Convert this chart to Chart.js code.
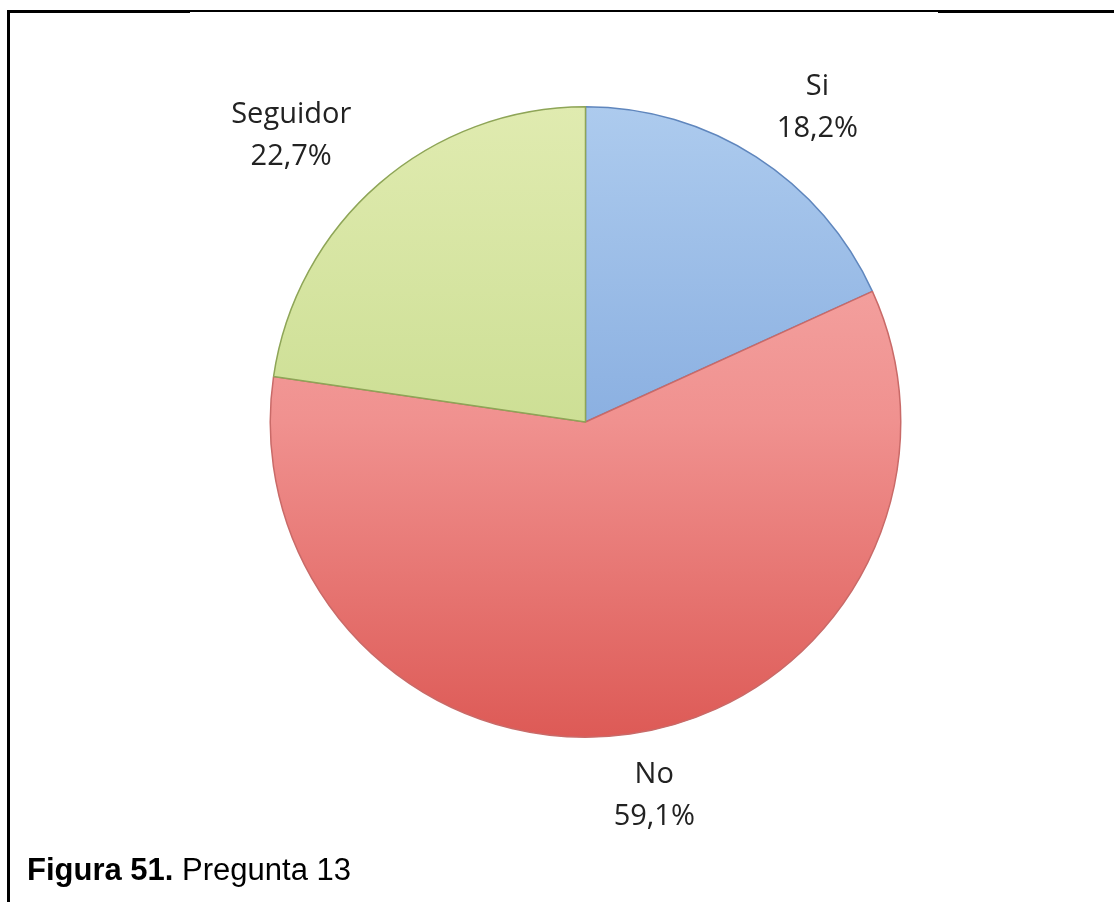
<!DOCTYPE html>
<html>
<head>
<meta charset="utf-8">
<script src="https://cdn.jsdelivr.net/npm/chart.js@4"></script>
<style>
  body { margin: 0; background: #fff; }
  #wrap { position: relative; width: 1114px; height: 902px; overflow: hidden; }
  #myChart { position: absolute; left: 0; top: 0; }
  .ln { position: absolute; background: #000; }
  #caption {
    position: absolute; left: 27px; top: 854px;
    font-family: "Liberation Sans", Arial, sans-serif; font-size: 31px; line-height: 31px; color: #000;
  }
</style>
</head>
<body>
<div id="wrap">
  <canvas id="myChart" width="1114" height="902"></canvas>
  <div class="ln" style="left:7px;top:10px;width:183px;height:3px"></div>
  <div class="ln" style="left:190px;top:10px;width:748px;height:2px"></div>
  <div class="ln" style="left:938px;top:10px;width:176px;height:3px"></div>
  <div class="ln" style="left:7px;top:10px;width:3px;height:892px"></div>
  <div id="caption"><b>Figura 51.</b> Pregunta 13</div>
</div>
<script>
const labels = ["Si", "No", "Seguidor"];
const values = [18.2, 59.1, 22.7];
const valueText = ["18,2%", "59,1%", "22,7%"];

// top -> bottom colour stops per slice
const sliceStops = [
  ["#adcbee", "#8bb0e1", "#6892d1"],
  ["#f7b2b0", "#f0918f", "#dd5a56"],
  ["#e0ebb0", "#cddf95", "#b8ce72"],
];
const sliceBorders = ["#5f86bd", "#c96a68", "#8ea557"];

let grads = null;
function getGradient(ctx, chartArea, i) {
  if (!grads) {
    grads = sliceStops.map(function (s) {
      const g = ctx.createLinearGradient(0, chartArea.top, 0, chartArea.bottom);
      g.addColorStop(0, s[0]);
      g.addColorStop(0.5, s[1]);
      g.addColorStop(1, s[2]);
      return g;
    });
  }
  return grads[i];
}

const outsideLabels = {
  id: "outsideLabels",
  afterDatasetsDraw(chart) {
    const ctx = chart.ctx;
    const arcs = chart.getDatasetMeta(0).data;
    ctx.save();
    ctx.font = '29px "Open Sans", sans-serif';
    ctx.fillStyle = "#222";
    ctx.textAlign = "center";
    ctx.textBaseline = "middle";
    const lineH = 42;
    arcs.forEach(function (arc, i) {
      const p = arc.getProps(["x", "y", "startAngle", "endAngle", "outerRadius"], true);
      const mid = (p.startAngle + p.endAngle) / 2;
      const dx = Math.cos(mid), dy = Math.sin(mid);
      const r = p.outerRadius + 18;
      const px = p.x + dx * r, py = p.y + dy * r;
      const w = Math.max(ctx.measureText(labels[i]).width, ctx.measureText(valueText[i]).width);
      const h = lineH * 2;
      // excel-ish outside end placement
      const cx = px + Math.sign(dx) * w / 2 * 1.27 * Math.min(1, Math.abs(dx) * 3);
      const cy = py + Math.sign(dy) * h / 2 * 0.93 * Math.min(1, Math.abs(dy) * 3) + 5;
      ctx.fillText(labels[i], cx, cy - lineH / 2);
      ctx.fillText(valueText[i], cx, cy + lineH / 2);
    });
    ctx.restore();
  },
};

const config = {
  type: "pie",
  data: {
    labels: labels,
    datasets: [
      {
        data: values,
        backgroundColor: function (context) {
          const { ctx, chartArea } = context.chart;
          if (!chartArea) {
            return;
          }
          return getGradient(ctx, chartArea, context.dataIndex);
        },
        borderColor: sliceBorders,
        borderWidth: 1.5,
      },
    ],
  },
  options: {
    responsive: false,
    animation: false,
    layout: {
      padding: { left: 269, right: 212, top: 106, bottom: 164 },
    },
    plugins: {
      legend: { display: false },
      tooltip: { enabled: false },
    },
  },
  plugins: [outsideLabels],
};

const myChart = new Chart(document.getElementById("myChart"), config);
</script>
</body>
</html>
